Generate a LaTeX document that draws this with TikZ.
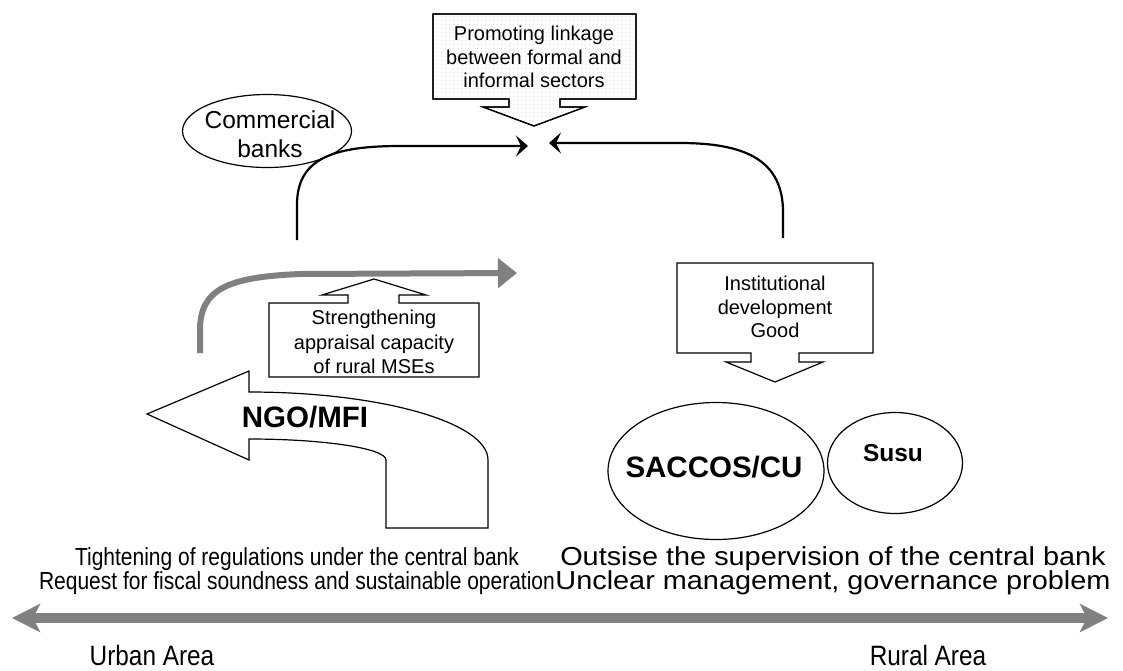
\documentclass[tikz,border=0pt]{standalone}
\usepackage{fontspec}
\setmainfont{Liberation Sans}
\newfontfamily\condfont[FakeStretch=0.85]{Liberation Sans}
\newfontfamily\widefont[FakeStretch=1.11]{Liberation Sans}
\newfontfamily\areafont[FakeStretch=0.87]{Liberation Sans}
\usetikzlibrary{arrows.meta,shapes.geometric,patterns.meta}
\definecolor{axisgray}{RGB}{128,128,128}
\tikzdeclarepattern{
  name=finedots, type=uncolored,
  bounding box={(0pt,0pt) and (4pt,4pt)},
  tile size={(4pt,4pt)},
  code={\fill (2pt,2pt) circle (0.45pt);}
}
\tikzset{
  outline/.style={draw=black, line width=1.2pt, line join=miter},
  boxtext/.style={align=center, inner sep=0pt, font=\fontsize{20}{23.5}\selectfont},
  bigtext/.style={inner sep=0pt, font=\bfseries\fontsize{29.5}{32}\selectfont},
  oval/.style={ellipse, draw=black, line width=1.2pt, inner sep=0pt},
  link/.style={draw=black, line width=2.2pt, -{Stealth[length=12pt,width=21pt,inset=5pt]}},
  grayflow/.style={draw=axisgray, line width=6pt, -{Triangle[length=19pt,width=29pt]}},
  axis/.style={draw=axisgray, line width=9.5pt,
    {Stealth[length=28pt,width=28pt,inset=7pt]}-{Stealth[length=28pt,width=28pt,inset=7pt]}},
  note/.style={align=center, inner sep=0pt},
  area/.style={inner sep=0pt, font=\areafont\fontsize{28}{30}\selectfont}
}
\begin{document}
\begin{tikzpicture}[x=1pt, y=-1pt]
\path[use as bounding box, fill=white] (0,0) rectangle (1123,670);

% top callout: linkage between sectors (dotted fill)
\path[outline, fill=white, pattern={finedots}, pattern color=gray!45]
  (433,14) -- (636,14) -- (636,99) -- (560,99) -- (560,107) -- (585,107)
  -- (534,126) -- (483,107) -- (509,107) -- (509,99) -- (433,99) -- cycle;
\draw[outline] (433,14) -- (636,14) -- (636,99) -- (560,99) -- (560,107) -- (585,107)
  -- (534,126) -- (483,107) -- (509,107) -- (509,99) -- (433,99) -- cycle;
\node[boxtext] (linkage) at (534,57) {Promoting linkage\\between formal and\\informal sectors};

% commercial banks
\node[oval, minimum width=169pt, minimum height=73pt] (banks) at (267,131) {};
\node[inner sep=0pt, align=center, font=\fontsize{24.5}{29}\selectfont] (bankstext) at (270,134) {Commercial\\banks};

% converging connectors
\coordinate (lstart) at (297,240);
\coordinate (lend) at (528,146);
\coordinate (rstart) at (783,238);
\coordinate (rend) at (549,143);
\draw[link] (lstart) -- (297,205) .. controls (297,160) and (330,146) .. (400,146) -- (lend);
\draw[link] (rstart) -- (783,212) .. controls (783,160) and (745,143) .. (680,143) -- (rend);

% gray flow arrow
\coordinate (gstart) at (200,353);
\coordinate (gend) at (517,273);
\draw[grayflow] (gstart) -- (200,330) .. controls (200,289) and (228,277) .. (300,274) -- (gend);

% strengthening callout (arrow upwards)
\draw[outline, fill=white] (269,303) -- (348,303) -- (348,295) -- (322,295) -- (374,279)
  -- (426,295) -- (399,295) -- (399,303) -- (479,303) -- (479,377) -- (269,377) -- cycle;
\node[boxtext, font=\fontsize{20}{24.5}\selectfont] (appraisal) at (374,342)
  {Strengthening\\appraisal capacity\\of rural MSEs};

% NGO/MFI bent arrow
\draw[outline, fill=white] (147,414) -- (249,371) -- (249,392)
  .. controls (381,392) and (488,422.5) .. (488,460) -- (488,528) -- (386,528) -- (386,460)
  .. controls (386,448.4) and (324.6,439) .. (249,439) -- (249,460) -- cycle;
\node[bigtext] (ngo) at (305,417) {NGO/MFI};

% institutional development callout (arrow downwards)
\draw[outline, fill=white] (677,263) -- (873,263) -- (873,353) -- (799,353) -- (799,362)
  -- (823,362) -- (775,382) -- (726,362) -- (751,362) -- (751,353) -- (677,353) -- cycle;
\node[boxtext] (inst) at (775,307) {Institutional\\development\\Good};

% rural institutions
\node[oval, minimum width=216pt, minimum height=137pt] (saccos) at (716,471) {};
\node[bigtext] (saccostext) at (714,467) {SACCOS/CU};
\node[oval, minimum width=135pt, minimum height=101pt] (susu) at (895,463) {};
\node[bigtext, font=\bfseries\fontsize{24.5}{28}\selectfont] (susutext) at (893,453) {Susu};

% regulation notes
\node[note, font=\condfont\fontsize{24.7}{24.5}\selectfont] (urbannote) at (297,571)
  {Tightening of regulations under the central bank\\Request for fiscal soundness and sustainable operation};
\node[note, font=\widefont\fontsize{26}{24.5}\selectfont] (ruralnote) at (833,571)
  {Outsise the supervision of the central bank\\Unclear management, governance problem};

% urban--rural axis
\coordinate (axL) at (12,618);
\coordinate (axR) at (1108,618);
\draw[axis] (axL) -- (axR);
\node[area] (urban) at (152,655) {Urban Area};
\node[area] (rural) at (928,655) {Rural Area};
\end{tikzpicture}
\end{document}
